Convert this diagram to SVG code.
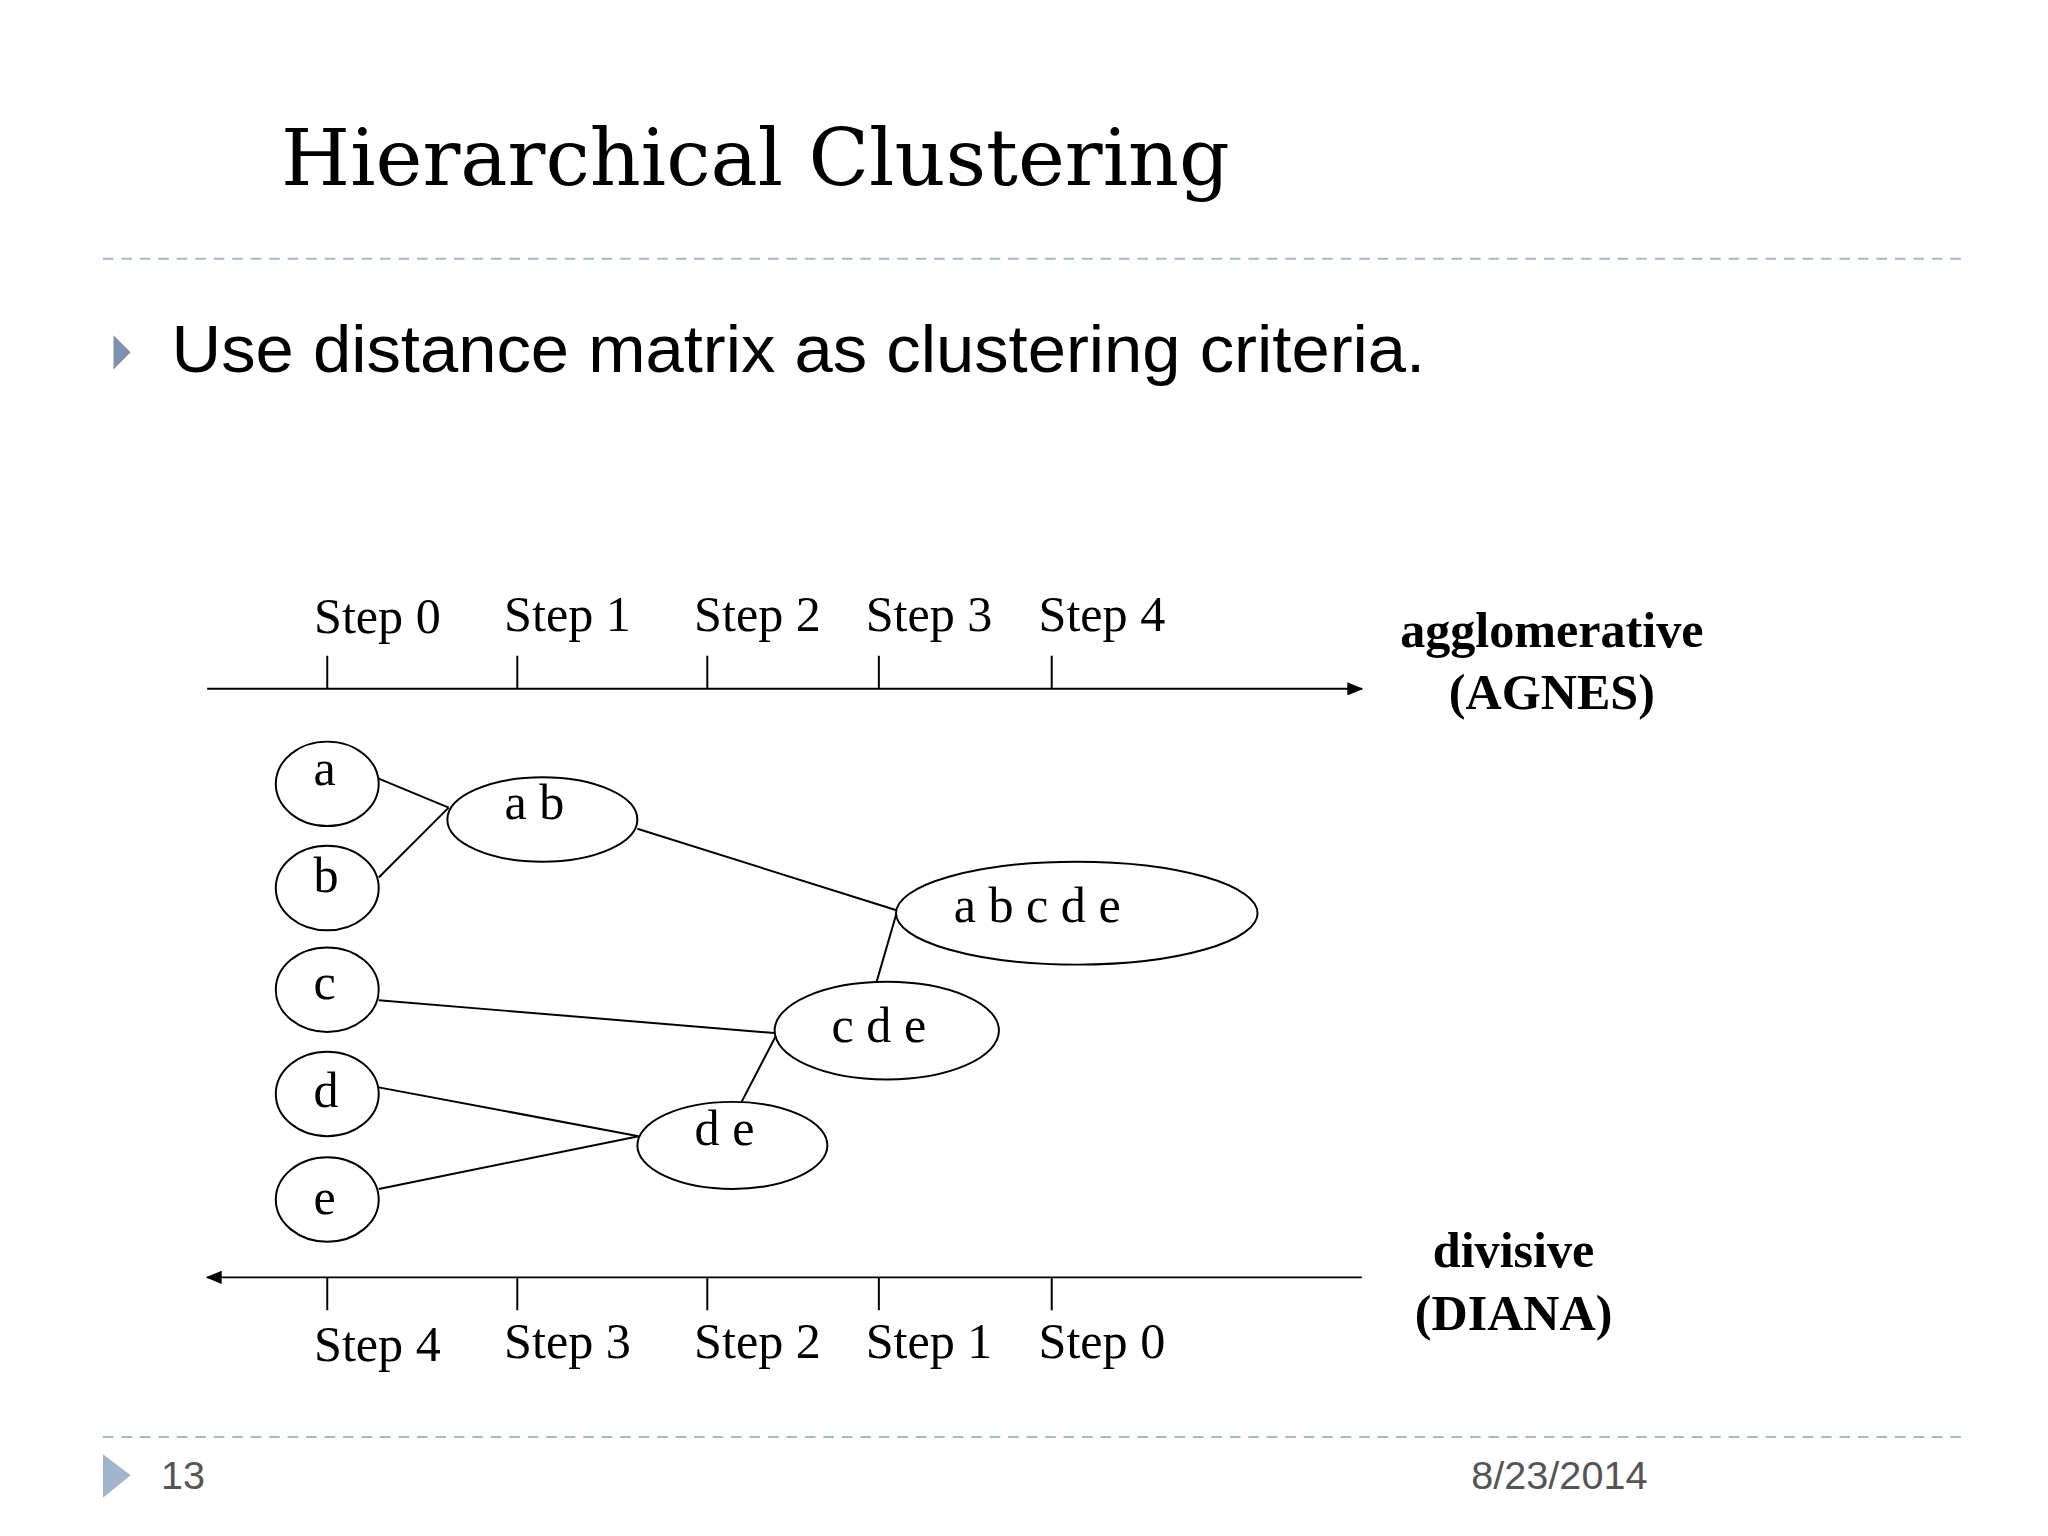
<svg xmlns="http://www.w3.org/2000/svg" width="2048" height="1536" viewBox="0 0 2048 1536">
<defs>
<style>
.s{font-family:"Liberation Serif","Times New Roman",serif;font-size:38px;fill:#000}
.b{font-family:"Liberation Serif",serif;font-size:38px;font-weight:bold;text-anchor:middle}
.n{fill:#fff;stroke:#000;stroke-width:1.5}
.l{stroke:#000;stroke-width:1.5;fill:none}
.d{stroke:#a8b8c8;stroke-width:1.5;stroke-dasharray:8 6}
</style>
<marker id="ar" markerWidth="12" markerHeight="10" refX="11" refY="5" orient="auto" markerUnits="userSpaceOnUse"><path d="M0,0 L12,5 L0,10 z" fill="#000"/></marker>
</defs>
<rect width="2048" height="1536" fill="#fff"/>
<g transform="scale(1.3196)">
<text x="213" y="140" font-family="'DejaVu Serif',serif" font-size="60" textLength="719" lengthAdjust="spacingAndGlyphs">Hierarchical Clustering</text>
<line class="d" x1="78" y1="196" x2="1490" y2="196"/>
<path d="M86,254 L99,267 L86,280 z" fill="#8090b0"/>
<text x="130" y="282" font-family="'Liberation Sans',Arial,sans-serif" font-size="50" textLength="950" lengthAdjust="spacingAndGlyphs">Use distance matrix as clustering criteria.</text>
<g id="axes">
<line class="l" x1="157" y1="522" x2="1032" y2="522" stroke-width="3" marker-end="url(#ar)"/>
<line class="l" x1="1032" y1="968" x2="157" y2="968" stroke-width="3" marker-end="url(#ar)"/>
<path class="l" d="M248,497V522M392,497V522M536,497V522M666,497V522M797,497V522M248,968V993M392,968V993M536,968V993M666,968V993M797,968V993"/>
<text class="s" x="238" y="480">Step 0</text><text class="s" x="382" y="478">Step 1</text><text class="s" x="526" y="478">Step 2</text><text class="s" x="656" y="478">Step 3</text><text class="s" x="787" y="478">Step 4</text>
<text class="s" x="238" y="1031">Step 4</text><text class="s" x="382" y="1029">Step 3</text><text class="s" x="526" y="1029">Step 2</text><text class="s" x="656" y="1029">Step 1</text><text class="s" x="787" y="1029">Step 0</text>
<text class="b" x="1176" y="490">agglomerative</text><text class="b" x="1176" y="537">(AGNES)</text>
<text class="b" x="1147" y="960">divisive</text><text class="b" x="1147" y="1008">(DIANA)</text>
</g>
<g id="connectors">
<path class="l" d="M287,590L340,612M287,665L340,612M483,628L680,690M664,745L680,690M287,758L589,783M562,835L589,783M287,824L484,861M287,901L484,861"/>
</g>
<g id="a"><ellipse class="n" cx="248" cy="594" rx="39" ry="32"/><text class="s" x="246" y="595" text-anchor="middle">a</text></g>
<g id="b"><ellipse class="n" cx="248" cy="673" rx="39" ry="32"/><text class="s" x="247" y="676" text-anchor="middle">b</text></g>
<g id="c"><ellipse class="n" cx="248" cy="750" rx="39" ry="32"/><text class="s" x="246" y="757" text-anchor="middle">c</text></g>
<g id="d"><ellipse class="n" cx="248" cy="829" rx="39" ry="32"/><text class="s" x="247" y="839" text-anchor="middle">d</text></g>
<g id="e"><ellipse class="n" cx="248" cy="909" rx="39" ry="32"/><text class="s" x="246" y="920" text-anchor="middle">e</text></g>
<g id="ab"><ellipse class="n" cx="411" cy="621" rx="72" ry="32"/><text class="s" x="405" y="621" text-anchor="middle">a b</text></g>
<g id="abcde"><ellipse class="n" cx="816" cy="692" rx="137" ry="39"/><text class="s" x="786" y="699" text-anchor="middle">a b c d e</text></g>
<g id="cde"><ellipse class="n" cx="672" cy="781" rx="85" ry="37"/><text class="s" x="666" y="790" text-anchor="middle">c d e</text></g>
<g id="de"><ellipse class="n" cx="555" cy="868" rx="72" ry="33"/><text class="s" x="549" y="868" text-anchor="middle">d e</text></g>
<line class="d" x1="78" y1="1089" x2="1490" y2="1089"/>
<path d="M78,1102 L99,1118 L78,1135 z" fill="#a0b4cc"/>
<text x="122" y="1128" font-family="'Liberation Sans',sans-serif" font-size="30" fill="#555">13</text>
<text x="1115" y="1128" font-family="'Liberation Sans',sans-serif" font-size="30" fill="#555">8/23/2014</text>
</g>
</svg>
